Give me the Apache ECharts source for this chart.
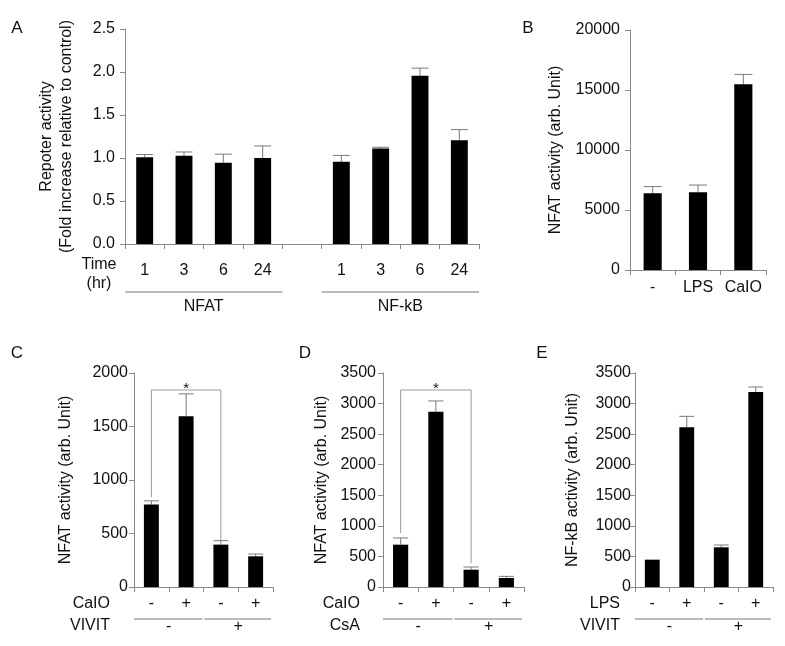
<!DOCTYPE html>
<html>
<head>
<meta charset="utf-8">
<script src="https://cdn.jsdelivr.net/npm/echarts@6/dist/echarts.min.js"></script>
<style>
html,body{margin:0;padding:0;background:#fff;}
#c{width:785px;height:646px;}
</style>
</head>
<body>
<div id="c"></div>
<script>
// ---------- data ----------
const aTimes = ['1', '3', '6', '24'];
const aGroups = ['NFAT', 'NF-kB'];
const aNfat = [1.01, 1.025, 0.945, 1.0];
const aNfatErr = [0.03, 0.045, 0.1, 0.14];
const aNfkb = [0.955, 1.11, 1.955, 1.205];
const aNfkbErr = [0.075, 0.015, 0.09, 0.125];

const bLabels = ['-', 'LPS', 'CaIO'];
const bValues = [6400, 6470, 15480];
const bErr = [550, 610, 820];

const cRow1 = ['-', '+', '-', '+'];
const cRow2 = ['-', '+'];
const cValues = [770, 1595, 396, 287];
const cErr = [35, 210, 37, 21];
const cBracket = [[0, 841], [0, 1841], [2, 1841], [2, 439]];

const dRow1 = ['-', '+', '-', '+'];
const dRow2 = ['-', '+'];
const dValues = [692, 2868, 283, 147];
const dErr = [110, 175, 44, 27];
const dBracket = [[0, 883], [0, 3222], [2, 3222], [2, 393]];

const eRow1 = ['-', '+', '-', '+'];
const eRow2 = ['-', '+'];
const eValues = [447, 2611, 649, 3189];
const eErr = [0, 180, 38, 82];

// ---------- style ----------
const FONT = 'Liberation Sans, Arial, sans-serif';
const AXIS = '#8a8a8a';
const ERR = '#7a7a7a';
const TXT = '#111';

const aCats = aTimes.concat(['']).concat(aTimes);
const aVals = aNfat.concat([null]).concat(aNfkb);
const aErrs = aNfatErr.concat([0]).concat(aNfkbErr);

const panels = [
  {grid: {left: 125, top: 29, width: 354, height: 215}, cats: aCats, vals: aVals, errs: aErrs,
   yMax: 2.5, yInt: 0.5, yFmt: v => v.toFixed(1), yMargin: 10, xMargin: 19, barFrac: 0.43,
   name: 'Repoter activity\n(Fold increase relative to control)', nameGap: 48},
  {grid: {left: 630, top: 30, width: 136, height: 240}, cats: bLabels, vals: bValues, errs: bErr,
   yMax: 20000, yInt: 5000, yFmt: v => String(v), yMargin: 10, xMargin: 10, barFrac: 0.40,
   name: 'NFAT activity (arb. Unit)', nameGap: 64},
  {grid: {left: 134, top: 373, width: 139, height: 214}, cats: cRow1, vals: cValues, errs: cErr,
   yMax: 2000, yInt: 500, yFmt: v => String(v), yMargin: 6, xMargin: 9, barFrac: 0.43,
   name: 'NFAT activity (arb. Unit)', nameGap: 58, bracket: cBracket},
  {grid: {left: 383, top: 373, width: 141, height: 214}, cats: dRow1, vals: dValues, errs: dErr,
   yMax: 3500, yInt: 500, yFmt: v => String(v), yMargin: 7, xMargin: 9, barFrac: 0.43,
   name: 'NFAT activity (arb. Unit)', nameGap: 51, bracket: dBracket},
  {grid: {left: 635, top: 373, width: 138, height: 214}, cats: eRow1, vals: eValues, errs: eErr,
   yMax: 3500, yInt: 500, yFmt: v => String(v), yMargin: 4, xMargin: 9, barFrac: 0.43,
   name: 'NF-kB activity (arb. Unit)', nameGap: 52}
];

const grids = [], xAxes = [], yAxes = [], series = [];
panels.forEach((p, k) => {
  grids.push(p.grid);
  xAxes.push({
    type: 'category', gridIndex: k, data: p.cats.map((c, i) => 'c' + i),
    axisLine: {lineStyle: {color: AXIS, width: 1}},
    axisTick: {show: true, interval: 0, length: 5, lineStyle: {color: AXIS}},
    axisLabel: {interval: 0, margin: p.xMargin, color: TXT, fontSize: 16, fontFamily: FONT,
      formatter: (v, i) => p.cats[i]},
    splitLine: {show: false}
  });
  yAxes.push({
    type: 'value', gridIndex: k, min: 0, max: p.yMax, interval: p.yInt,
    axisLine: {show: true, lineStyle: {color: AXIS, width: 1}},
    axisTick: {show: true, length: 5, lineStyle: {color: AXIS}},
    axisLabel: {margin: p.yMargin, color: TXT, fontSize: 16, fontFamily: FONT, formatter: p.yFmt},
    splitLine: {show: false},
    name: p.name, nameLocation: 'middle', nameRotate: 90, nameGap: p.nameGap,
    nameTextStyle: {color: TXT, fontSize: 16, fontFamily: FONT, lineHeight: 20}
  });
  series.push({
    type: 'bar', xAxisIndex: k, yAxisIndex: k, data: p.vals,
    barWidth: Math.round(p.barFrac * 100) + '%',
    itemStyle: {color: '#000'}, silent: true, animation: false
  });
  series.push({
    type: 'custom', xAxisIndex: k, yAxisIndex: k, silent: true, animation: false, z: 1,
    data: p.vals.map((v, i) => [i, v == null ? 0 : v, p.errs[i]]),
    encode: {x: 0, y: 1},
    renderItem: (params, api) => {
      const e = api.value(2);
      if (!e) return null;
      const x = api.value(0), v = api.value(1);
      const p0 = api.coord([x, v]);
      const p1 = api.coord([x, v + e]);
      const hw = api.size([1, 0])[0] * p.barFrac / 2;
      return {type: 'group', children: [
        {type: 'line', shape: {x1: p0[0], y1: p0[1], x2: p1[0], y2: p1[1]}, style: {stroke: ERR, lineWidth: 1}},
        {type: 'line', shape: {x1: p1[0] - hw, y1: p1[1], x2: p1[0] + hw, y2: p1[1]}, style: {stroke: ERR, lineWidth: 1}}
      ]};
    }
  });
  if (p.bracket) {
    series.push({
      type: 'line', xAxisIndex: k, yAxisIndex: k, data: p.bracket, symbol: 'none',
      lineStyle: {color: '#9a9a9a', width: 1}, silent: true, animation: false, z: 3
    });
  }
});

const chart = echarts.init(document.getElementById('c'), null, {renderer: 'canvas'});
chart.setOption({
  animation: false,
  textStyle: {fontFamily: FONT},
  grid: grids, xAxis: xAxes, yAxis: yAxes, series: series
});

// ---------- annotations ----------
function cx(k, i) { return chart.convertToPixel({xAxisIndex: k}, i); }
function cy(k, v) { return chart.convertToPixel({yAxisIndex: k}, v); }
function step(k) { return cx(k, 1) - cx(k, 0); }
const g = [];
function text(x, y, s, align, size) {
  g.push({type: 'text', x: x, y: y, silent: true,
    style: {text: s, fill: TXT, font: (size || 16) + 'px ' + FONT, textAlign: align || 'center', textVerticalAlign: 'middle'}});
}
function hline(x1, x2, y, color) {
  g.push({type: 'line', silent: true, shape: {x1: x1, y1: y, x2: x2, y2: y}, style: {stroke: color || '#777', lineWidth: 1}});
}
// panel letters
text(17, 28, 'A', 'center', 17);
text(528, 28, 'B', 'center', 17);
text(17, 353, 'C', 'center', 17);
text(305, 353, 'D', 'center', 17);
text(542, 353, 'E', 'center', 17);

// panel A extras
{
  const s = step(0), y0 = cy(0, 0);
  text(99, y0 + 21, 'Time', 'center');
  text(99, y0 + 40, '(hr)', 'center');
  const groups = [[0, 3], [5, 8]];
  groups.forEach((gr, j) => {
    const x1 = cx(0, gr[0]) - s / 2, x2 = cx(0, gr[1]) + s / 2;
    hline(x1, x2, y0 + 48);
    text((x1 + x2) / 2, y0 + 63, aGroups[j], 'center');
  });
}
// panels C, D, E extras
const lower = [
  {k: 2, names: ['CaIO', 'VIVIT'], rx: 110, row2: cRow2},
  {k: 3, names: ['CaIO', 'CsA'], rx: 360, row2: dRow2},
  {k: 4, names: ['LPS', 'VIVIT'], rx: 620, row2: eRow2}
];
lower.forEach(L => {
  const s = step(L.k), y0 = cy(L.k, 0);
  text(L.rx, y0 + 17, L.names[0], 'right');
  text(L.rx, y0 + 39, L.names[1], 'right');
  const left = cx(L.k, 0) - s / 2, mid = cx(L.k, 1) + s / 2, right = cx(L.k, 3) + s / 2;
  hline(left, mid - 1, y0 + 32);
  hline(mid + 1, right - 2, y0 + 32);
  text((left + mid) / 2, y0 + 40, L.row2[0], 'center');
  text((mid + right) / 2, y0 + 40, L.row2[1], 'center');
});
// significance stars
[[2, cBracket], [3, dBracket]].forEach(([k, br]) => {
  const x = (cx(k, br[1][0]) + cx(k, br[2][0])) / 2;
  const y = cy(k, br[1][1]);
  text(x, y - 1, '*', 'center', 15);
});
chart.setOption({graphic: g});
</script>
</body>
</html>
